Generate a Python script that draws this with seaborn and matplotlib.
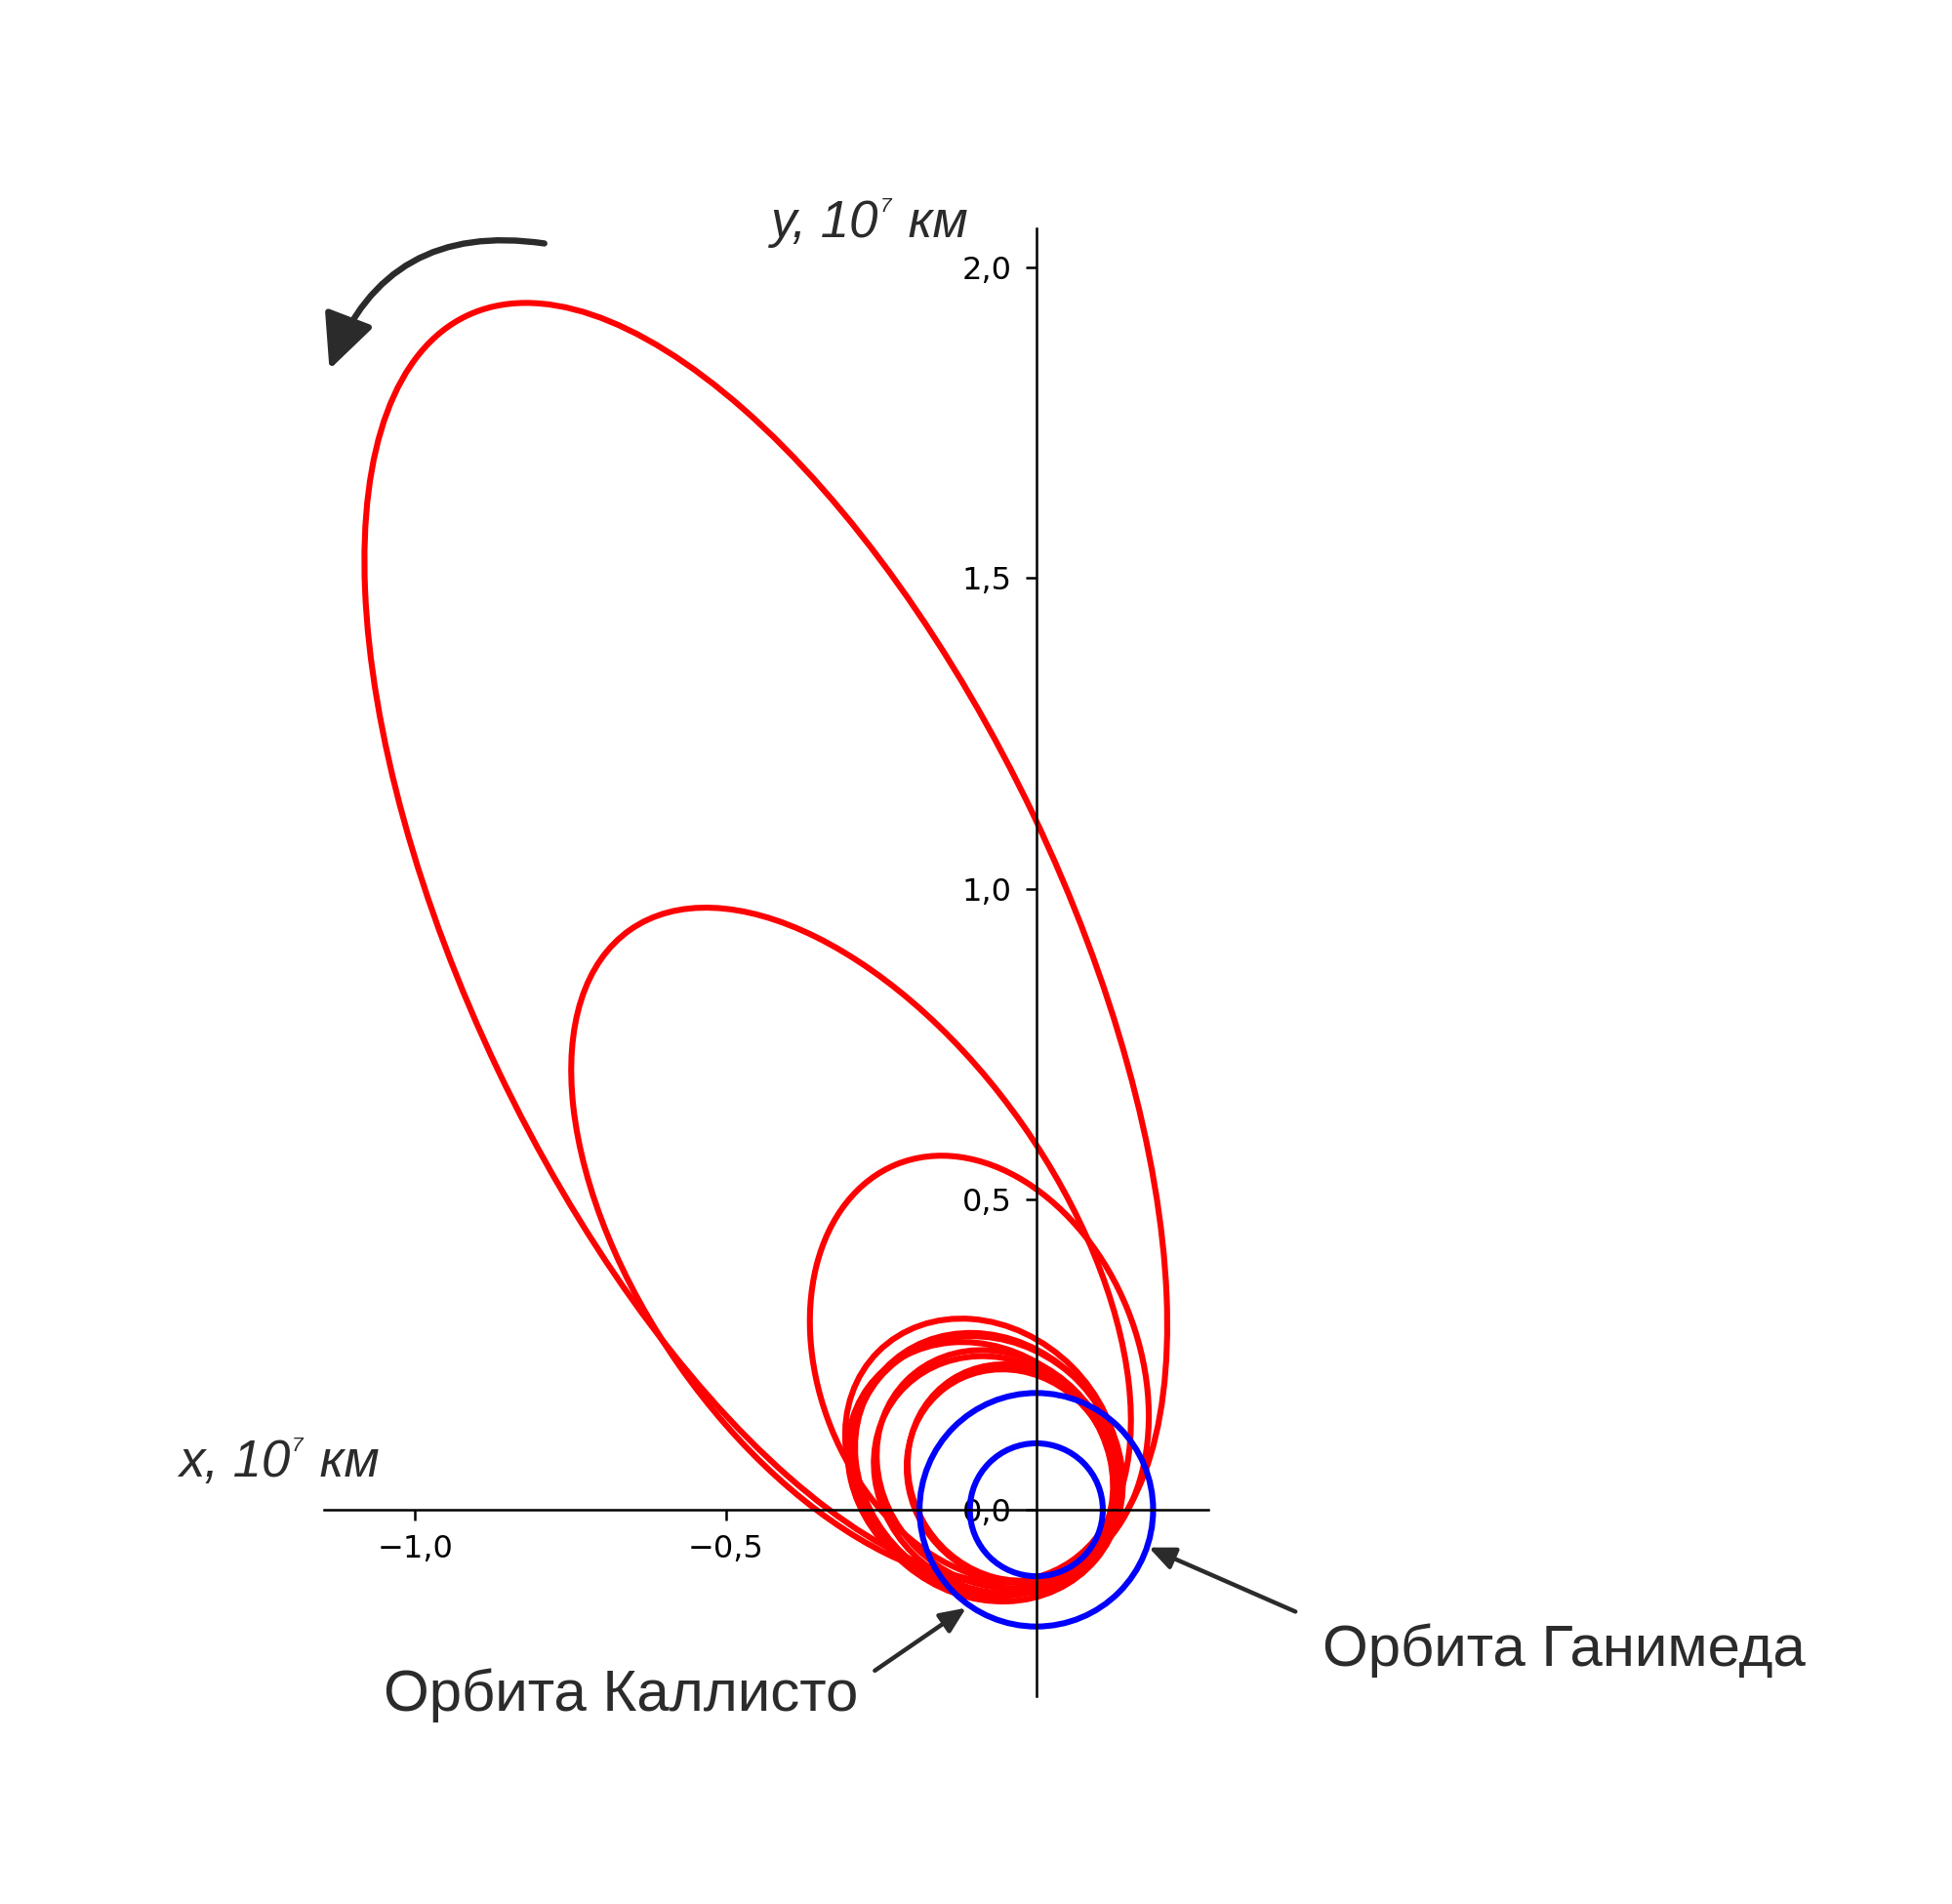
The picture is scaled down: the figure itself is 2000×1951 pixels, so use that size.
import numpy as np
import matplotlib
matplotlib.use("Agg")
import matplotlib.pyplot as plt
from matplotlib.patches import Ellipse, Circle, FancyArrowPatch
import seaborn as sns

# Spacecraft orbits around Jupiter (focus at the origin), units 10^7 km
# periapsis distance, apoapsis distance, direction of apoapsis (deg)
peri_r = [0.107, 0.100, 0.110, 0.115, 0.125, 0.118, 0.112, 0.115, 0.110, 0.107, 0.107]
apo_r = [2.130, 1.140, 0.600, 0.360, 0.330, 0.333, 0.335, 0.290, 0.295, 0.250, 0.245]
apo_dir = [115.5, 125.0, 112.0, 135.0, 140.0, 137.0, 144.0, 140.0, 135.0, 123.0, 127.0]

# moon orbits (Ganymede, Callisto)
moon_names = ['Ганимед', 'Каллисто']
moon_r = [0.107, 0.188]

x_ticks = [-1.0, -0.5]
x_labels = ['\u22121,0', '\u22120,5']
y_ticks = [0.0, 0.5, 1.0, 1.5, 2.0]
y_labels = ['0,0', '0,5', '1,0', '1,5', '2,0']

sns.set_style('white')
plt.rcParams['font.family'] = ['DejaVu Sans']

txt_col = '#2b2b2b'
lab_font = 'Liberation Sans'

fig = plt.figure(figsize=(10, 9.755), dpi=200)
ax = fig.add_axes([0.1659, 0.1092, 0.4530, 0.7711])

# red trajectory loops
for rp, ra, th in zip(peri_r, apo_r, apo_dir):
    a = (rp + ra) / 2
    c = (ra - rp) / 2
    b = np.sqrt(rp * ra)
    t = np.radians(th)
    ax.add_patch(Ellipse((c * np.cos(t), c * np.sin(t)), 2 * a, 2 * b, angle=th,
                         fill=False, ec='#ff0000', lw=2.2, zorder=1))

# moon orbits
for r in moon_r:
    ax.add_patch(Circle((0, 0), r, fill=False, ec='#0000ff', lw=2.2, zorder=2))

ax.set_xlim(-1.147, 0.2765)
ax.set_ylim(-0.30, 2.064)

sns.despine(ax=ax)
for side in ['left', 'bottom']:
    ax.spines[side].set_position(('data', 0))
    ax.spines[side].set_color('black')
    ax.spines[side].set_linewidth(0.9)
    ax.spines[side].set_zorder(3)

ax.set_xticks(x_ticks)
ax.set_xticklabels(x_labels)
ax.set_yticks(y_ticks)
ax.set_yticklabels(y_labels)
ax.tick_params(axis='both', direction='out', length=4, width=0.9, pad=5,
               labelsize=11.5, colors='black', left=True, bottom=True)


# axis labels with superscript 7
def axis_label(x, y, letter):
    t1 = fig.text(x, y, letter + ', 10', fontsize=19, style='italic',
                  family=lab_font, color=txt_col, ha='left', va='baseline')
    sup = ax.annotate('7', xy=(1, 1), xycoords=t1, xytext=(0.5, -6),
                      textcoords='offset points', fontsize=7.5, style='italic',
                      family=lab_font, color=txt_col, ha='left', va='bottom',
                      annotation_clip=False)
    ax.annotate(' км', xy=(1, 0), xycoords=(sup, t1), xytext=(0.8, 0),
                textcoords='offset points', fontsize=19, style='italic',
                family=lab_font, color=txt_col, ha='left', va='bottom',
                annotation_clip=False)


axis_label(0.395, 0.8755, 'y')
axis_label(0.0915, 0.2245, 'x')

# labels of moon orbits
fig.text(0.4395, 0.1015, 'Орбита Каллисто', fontsize=21.6, family=lab_font,
         color=txt_col, ha='right', va='baseline')
fig.text(0.6775, 0.1252, 'Орбита Ганимеда', fontsize=21.6, family=lab_font,
         color=txt_col, ha='left', va='baseline')

arrow_kw = dict(arrowstyle='-|>,head_length=0.8,head_width=0.35', color=txt_col,
                lw=1.6, shrinkA=0, shrinkB=0)
ax.annotate('', xy=(-0.113, -0.158), xytext=(-0.260, -0.259),
            arrowprops=arrow_kw, annotation_clip=False)
ax.annotate('', xy=(0.181, -0.0607), xytext=(0.417, -0.164),
            arrowprops=arrow_kw, annotation_clip=False)

# direction of motion
turn = FancyArrowPatch(posA=(-0.792, 2.039), posB=(-1.138, 1.836),
                       connectionstyle='arc3,rad=0.4',
                       arrowstyle='-|>,head_length=0.85,head_width=0.4',
                       mutation_scale=20, lw=2.3, color=txt_col,
                       capstyle='round', shrinkA=0, shrinkB=0, clip_on=False)
ax.add_patch(turn)

fig.savefig('out.png', dpi=200, facecolor='white')
